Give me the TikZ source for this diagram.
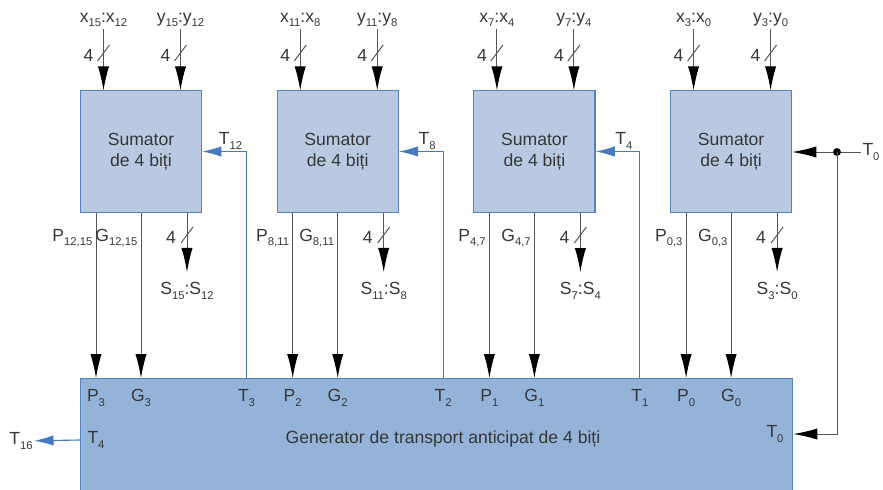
\documentclass[tikz,border=0pt]{standalone}
\usepackage{fontspec}
\setmainfont{Liberation Sans}
\usetikzlibrary{arrows.meta, positioning, math}
\definecolor{qfill}{RGB}{184,201,225}
\definecolor{qgen}{RGB}{148,179,216}
\definecolor{qedge}{RGB}{84,130,190}
\definecolor{qblue}{RGB}{68,122,190}
\definecolor{qwire}{RGB}{85,85,85}
\definecolor{qtext}{RGB}{55,55,55}

\newcommand\sub[1]{\raisebox{-0.5ex}{\fontsize{8}{8}\selectfont#1}}

\tikzset{
 adder/.style={draw=qedge, line width=0.8pt, fill=qfill, minimum width=3.03cm, minimum height=3.03cm, inner sep=0pt, align=center, text=qtext, font=\fontsize{12.5}{15}\selectfont},
 gen/.style={draw=qedge, line width=0.8pt, fill=qgen, minimum width=17.8cm, minimum height=3.1cm, inner sep=0pt, anchor=north west},
 lbl/.style={text=qtext, font=\fontsize{12.5}{14}\selectfont, inner sep=1pt},
 wire/.style={draw=qwire, line width=0.7pt},
 bus/.style={wire, -{Latex[length=0.6cm, width=0.28cm, color=black]}},
 carry/.style={draw=qblue, line width=0.8pt, -{Latex[length=0.48cm, width=0.26cm]}},
}

\begin{document}
\begin{tikzpicture}[x=0.025cm, y=-0.025cm]

\tikzmath{
\dx = 196.7; % adder pitch
\xo = 141;
\yo = 151.5;
\yg = 378; % generator top
}

\useasboundingbox (0,0) rectangle (883,489);

%generator:
\node[gen] (gen) at (80,\yg) {};
\node[lbl] (gtext) at (443,439) {Generator de transport anticipat de 4 biți};

\foreach \k in {0,...,3}{
 \tikzmath{
  \cx = \xo+\k*\dx;
  integer \hi, \lo, \g;
  \hi = 15-4*\k;
  \lo = 12-4*\k;
  \g = 3-\k;
  }
 \node[adder] (A\k) at (\cx,\yo) {Sumator\\de 4 biți};

 % operands
 \node[lbl] (x\k) at (\cx-37.5,20) {x\sub{\hi}:x\sub{\lo}};
 \node[lbl] (y\k) at (\cx+39.5,20) {y\sub{\hi}:y\sub{\lo}};
 \draw[bus] (x\k) -- (x\k |- A\k.north);
 \draw[bus] (y\k) -- (y\k |- A\k.north);
 \coordinate (xc\k) at (\cx-37.5,53);
 \coordinate (yc\k) at (\cx+39.5,53);
 \draw[wire] ([shift={(-6,8)}]xc\k) -- ([shift={(6,-8)}]xc\k);
 \draw[wire] ([shift={(-6,8)}]yc\k) -- ([shift={(6,-8)}]yc\k);
 \node[lbl] at ([shift={(-15,2)}]xc\k) {4};
 \node[lbl] at ([shift={(-15,2)}]yc\k) {4};

 % sum
 \node[lbl] (s\k) at (\cx+46,291) {S\sub{\hi}:S\sub{\lo}};
 \draw[bus, shorten >=0.22cm] (A\k.south -| s\k) -- (s\k);
 \coordinate (sc\k) at (\cx+46,235);
 \draw[wire] ([shift={(-6,8)}]sc\k) -- ([shift={(6,-8)}]sc\k);
 \node[lbl] at ([shift={(-16,2)}]sc\k) {4};

 % propagate / generate
 \node[lbl] (p\k) at (\cx-45,398) {P\sub{\g}};
 \node[lbl] (g\k) at (\cx,398) {G\sub{\g}};
 \draw[bus] (A\k.south -| p\k) -- (p\k |- gen.north);
 \draw[bus] (A\k.south -| g\k) -- (g\k |- gen.north);
 \node[lbl, anchor=east] at (\cx-47,238) {P\sub{\lo,\hi}};
 \node[lbl, anchor=east] at (\cx-2,238) {G\sub{\lo,\hi}};

 % carries
 \ifnum\k<3
  \node[lbl] (tg\k) at (\cx+105.5,398) {T\sub{\g}};
  \node[lbl] (tc\k) at (\cx+89.5,141) {T\sub{\lo}};
  \draw[carry] (tg\k |- gen.north) |- (A\k.east);
 \fi
}

%carry in:
\node[lbl] (T0) at (871,152) {T\sub{0}};
\node[lbl] (T0g) at (775,434) {T\sub{0}};
\coordinate (split) at (837,152);
\draw[bus] (T0.west) -- (T0.west -| A3.east);
\fill (split) circle (2.8pt);
\draw[bus] (split) |- (gen.east |- T0g);

%carry out:
\node[lbl] (T4g) at (96,440) {T\sub{4}};
\node[lbl] (T16) at (21,441) {T\sub{16}};
\draw[carry] (gen.west |- T4g) -- (T16);

\end{tikzpicture}
\end{document}
